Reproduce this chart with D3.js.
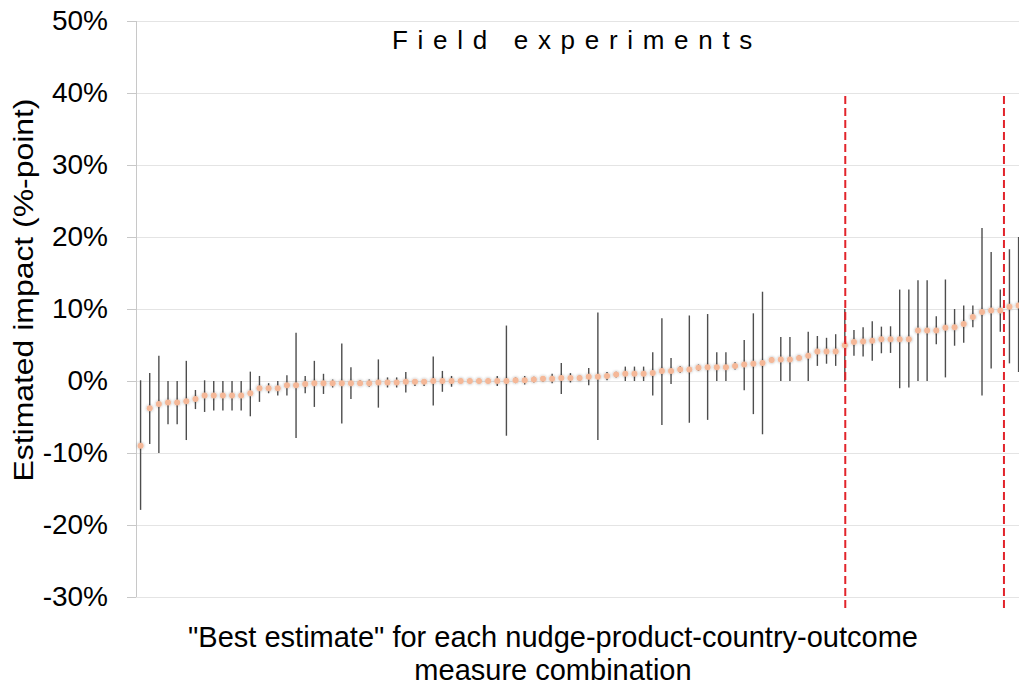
<!DOCTYPE html>
<meta charset="utf-8">
<script src="https://d3js.org/d3.v7.min.js"></script>
<style>
  body { margin: 0; background: #fff; }
  text { font-family: "Liberation Sans", Arial, sans-serif; fill: #000; }
</style>
<div id="chart"></div>
<script>
  // best estimate per nudge-product-country-outcome combination (in %-points), sorted
  const estimate = [
    -9.0, -3.8, -3.2, -3.0, -3.0, -2.8, -2.5, -2.0, -2.0, -2.0,
    -2.0, -2.0, -1.7, -1.0, -1.0, -1.0, -0.6, -0.6, -0.4, -0.3,
    -0.3, -0.3, -0.3, -0.3, -0.3, -0.3, -0.2, -0.2, -0.2, -0.1,
    -0.1, -0.1, 0.0, 0.0, 0.0, 0.0, 0.0, 0.0, 0.0, 0.0,
    0.0, 0.1, 0.1, 0.2, 0.3, 0.3, 0.4, 0.4, 0.4, 0.6,
    0.6, 0.7, 0.9, 1.0, 1.0, 1.0, 1.1, 1.4, 1.4, 1.6,
    1.6, 1.85, 1.9, 1.9, 1.9, 2.1, 2.3, 2.4, 2.5, 2.9,
    3.0, 3.0, 3.2, 3.5, 4.1, 4.1, 4.1, 4.95, 5.4, 5.5,
    5.6, 5.8, 5.8, 5.8, 5.8, 7.0, 7.0, 7.0, 7.4, 7.45,
    7.9, 8.9, 9.6, 9.8, 9.8, 10.3, 10.5
  ];
  // lower end of the interval
  const lower = [
    -17.9, -8.75, -10.0, -6.0, -6.0, -8.2, -3.9, -4.3, -4.1, -4.1,
    -4.1, -4.1, -4.9, -2.9, -1.7, -2.0, -2.0, -7.9, -1.7, -3.6,
    -1.8, -0.9, -5.9, -2.5, -0.7, -0.8, -3.7, -0.9, -0.9, -1.6,
    -0.7, -0.7, -3.4, -1.5, -0.8, -0.3, -0.3, -0.3, -0.3, -0.7,
    -7.6, -0.3, -0.5, -0.2, -0.1, -0.3, -1.8, -0.2, 0.0, -0.6,
    -8.2, 0.1, 0.5, 0.0, 0.0, 0.0, -2.0, -6.1, -0.4, 1.1,
    -5.8, 1.4, -5.4, 0.0, 0.0, 1.6, -1.3, -4.6, -7.4, 2.6,
    0.0, 0.0, 2.9, 0.0, 2.1, 2.4, 2.1, -0.1, 3.5, 3.4,
    2.8, 3.85, 3.9, -1.0, -0.9, 0.0, 0.0, 5.1, 0.5, 4.9,
    5.3, 7.45, -2.0, 1.75, 6.85, 2.45, 1.25
  ];
  // upper end of the interval
  const upper = [
    0.1, 1.1, 3.5, 0.0, 0.0, 2.8, -1.25, 0.1, 0.0, 0.0,
    0.0, 0.0, 1.3, 0.7, -0.3, 0.0, 0.8, 6.7, 0.7, 2.8,
    1.0, 0.2, 5.2, 1.9, 0.1, 0.2, 3.0, 0.5, 0.5, 1.25,
    0.2, 0.2, 3.4, 1.4, 0.7, 0.3, 0.3, 0.3, 0.3, 0.7,
    7.7, 0.5, 0.7, 0.6, 0.7, 1.0, 2.5, 1.1, 0.8, 1.8,
    9.5, 1.25, 1.3, 2.0, 2.0, 2.0, 4.0, 8.7, 3.2, 2.1,
    9.1, 2.3, 9.3, 4.0, 4.0, 2.6, 5.7, 9.4, 12.4, 3.3,
    6.1, 6.1, 3.6, 6.85, 6.25, 6.0, 6.5, 10.0, 7.1, 7.45,
    8.3, 7.55, 7.6, 12.7, 12.7, 14.0, 14.0, 9.0, 14.1, 10.0,
    10.5, 10.5, 21.25, 17.9, 12.7, 18.3, 20.0
  ];
  // red dashed markers, in position units along the sorted list
  const markers = [78.05, 95.4];
  const yTicks = [-0.3, -0.2, -0.1, 0, 0.1, 0.2, 0.3, 0.4, 0.5];

  const data = estimate.map((v, i) => ({ i: i + 1, v: v / 100, lo: lower[i] / 100, hi: upper[i] / 100 }));

  const W = 1019, H = 686;
  const margin = { top: 21, right: 0, bottom: 89, left: 136 };

  const svg = d3.select("#chart").append("svg")
    .attr("width", W)
    .attr("height", H);

  const x = d3.scaleLinear()
    .domain([0.5, estimate.length + 0.5])
    .range([margin.left, margin.left + 9.146 * estimate.length]);

  const y = d3.scaleLinear()
    .domain([-0.3, 0.5])
    .range([H - margin.bottom, margin.top]);

  // soft glow for the markers
  const defs = svg.append("defs");
  const f = defs.append("filter").attr("id", "glow")
    .attr("x", "-100%").attr("y", "-100%").attr("width", "300%").attr("height", "300%");
  f.append("feGaussianBlur").attr("in", "SourceAlpha").attr("stdDeviation", 1.6).attr("result", "b");
  f.append("feComponentTransfer").attr("in", "b").attr("result", "s")
    .append("feFuncA").attr("type", "linear").attr("slope", 0.35);
  const m = f.append("feMerge");
  m.append("feMergeNode").attr("in", "s");
  m.append("feMergeNode").attr("in", "SourceGraphic");

  // gridlines
  svg.append("g")
    .selectAll("line")
    .data(yTicks)
    .join("line")
    .attr("x1", margin.left)
    .attr("x2", W)
    .attr("y1", d => Math.round(y(d)) + 0.5)
    .attr("y2", d => Math.round(y(d)) + 0.5)
    .attr("stroke", "#e4e4e4")
    .attr("stroke-width", 1);

  // y axis -- plain hyphen for negatives, like the original
  const pct = d3.format(".0%");
  const yAxis = svg.append("g")
    .attr("transform", `translate(${margin.left},0)`)
    .call(d3.axisLeft(y).tickValues(yTicks)
      .tickFormat(d => d < 0 ? "-" + pct(-d) : pct(d))
      .tickSize(9).tickPadding(19));
  yAxis.select(".domain").attr("stroke", "#c8c8c8").attr("d", `M0.5,${y(0.5)}V${y(-0.3)}`);
  yAxis.selectAll(".tick line").attr("stroke", "#c8c8c8");
  yAxis.selectAll(".tick text")
    .style("font-size", "28px")
    .style("font-family", "'Liberation Sans', Arial, sans-serif")
    .attr("fill", "#000");

  // error bars
  svg.append("g")
    .selectAll("line")
    .data(data)
    .join("line")
    .attr("x1", d => x(d.i))
    .attr("x2", d => x(d.i))
    .attr("y1", d => y(d.lo))
    .attr("y2", d => y(d.hi))
    .attr("stroke", "#4d4d4d")
    .attr("stroke-width", 1.4);

  // estimates
  svg.append("g")
    .selectAll("circle")
    .data(data)
    .join("circle")
    .attr("cx", d => x(d.i))
    .attr("cy", d => y(d.v))
    .attr("r", 3)
    .attr("fill", "#f5b898")
    .attr("filter", "url(#glow)");

  // red dashed markers
  svg.append("g")
    .selectAll("line")
    .data(markers)
    .join("line")
    .attr("x1", d => x(d))
    .attr("x2", d => x(d))
    .attr("y1", y(0.396))
    .attr("y2", y(-0.32))
    .attr("stroke", "#e2242b")
    .attr("stroke-width", 2)
    .attr("stroke-dasharray", "8,4");

  // title
  svg.append("text")
    .attr("x", 577)
    .attr("y", 49)
    .attr("text-anchor", "middle")
    .style("font-size", "26px")
    .style("letter-spacing", "9.7px")
    .text("Field experiments");

  // axis titles
  svg.append("text")
    .attr("transform", "translate(33,290) rotate(-90)")
    .attr("text-anchor", "middle")
    .attr("textLength", 383)
    .attr("lengthAdjust", "spacingAndGlyphs")
    .style("font-size", "27px")
    .text("Estimated impact (%-point)");

  svg.append("text")
    .attr("x", 553)
    .attr("y", 647)
    .attr("text-anchor", "middle")
    .style("font-size", "29px")
    .text("\"Best estimate\" for each nudge-product-country-outcome");
  svg.append("text")
    .attr("x", 553)
    .attr("y", 680)
    .attr("text-anchor", "middle")
    .style("font-size", "29px")
    .text("measure combination");
</script>
